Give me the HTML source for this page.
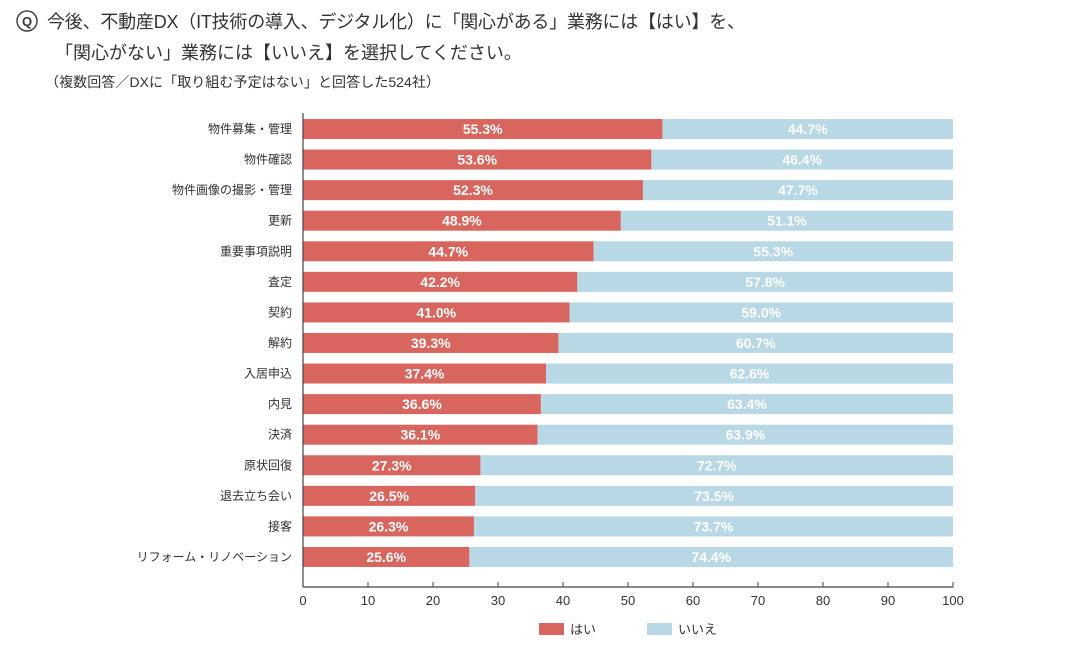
<!DOCTYPE html>
<html><head><meta charset="utf-8">
<style>
body{margin:0;background:#fff;width:1080px;height:645px;overflow:hidden;font-family:"Liberation Sans","Noto Sans CJK JP",sans-serif;}
svg text{font-family:"Liberation Sans","Noto Sans CJK JP",sans-serif;}
</style></head><body>
<svg id="c" width="1080" height="645">
<g>
<circle cx="27" cy="21" r="10" fill="#fff" stroke="#444" stroke-width="1.5"/>
<text x="27" y="26" font-size="13" font-weight="bold" text-anchor="middle" fill="#333">Q</text>
<text x="47" y="28" font-size="18" fill="#333" textLength="698">今後、不動産DX（IT技術の導入、デジタル化）に「関心がある」業務には【はい】を、</text>
<text x="55" y="59" font-size="18" fill="#333">「関心がない」業務には【いいえ】を選択してください。</text>
<text x="45" y="87" font-size="14" fill="#333" textLength="395">（複数回答／DXに「取り組む予定はない」と回答した524社）</text>
</g>
<g id="plot"></g>
<g>
<rect x="539" y="623" width="25" height="12" fill="#d9665e"/>
<text x="570" y="634" font-size="13" fill="#333">はい</text>
<rect x="647" y="623" width="25" height="12" fill="#b8d8e6"/>
<text x="678" y="634" font-size="13" fill="#333">いいえ</text>
</g>
</svg>
<script>
const categories=["物件募集・管理","物件確認","物件画像の撮影・管理","更新","重要事項説明","査定","契約","解約","入居申込","内見","決済","原状回復","退去立ち会い","接客","リフォーム・リノベーション"];
const yesValues=[55.3,53.6,52.3,48.9,44.7,42.2,41.0,39.3,37.4,36.6,36.1,27.3,26.5,26.3,25.6];
const noValues=[44.7,46.4,47.7,51.1,55.3,57.8,59.0,60.7,62.6,63.4,63.9,72.7,73.5,73.7,74.4];
const ticks=[0,10,20,30,40,50,60,70,80,90,100];
(function(){
const NS="http://www.w3.org/2000/svg";
const g=document.getElementById('plot');
const x0=303,x1=953,plotTop=113,plotBottom=587;
const xs=v=>x0+(x1-x0)*v/100;
const step=30.57;
const yc=i=>129+step*i;
function mk(t,a){const e=document.createElementNS(NS,t);for(const k in a)e.setAttribute(k,a[k]);g.appendChild(e);return e;}
categories.forEach((c,i)=>{
 const y=yc(i),h=20;
 let r=mk('rect',{x:xs(0),y:y-h/2,width:xs(yesValues[i])-xs(0),height:h,fill:'#d9665e'});
 
 
 let b=mk('rect',{x:xs(yesValues[i]),y:y-h/2,width:xs(yesValues[i]+noValues[i])-xs(yesValues[i]),height:h,fill:'#b8d8e6'});
 
 
 let t1=mk('text',{x:(xs(0)+xs(yesValues[i]))/2,y:y+5,'font-size':14,'font-weight':'bold',fill:'#fff','text-anchor':'middle'});
 t1.textContent=yesValues[i].toFixed(1)+'%';
 
 
 let t2=mk('text',{x:(xs(yesValues[i])+xs(yesValues[i]+noValues[i]))/2,y:y+5,'font-size':14,'font-weight':'bold',fill:'#fff','text-anchor':'middle'});
 t2.textContent=noValues[i].toFixed(1)+'%';
 
 
 let l=mk('text',{x:292,y:y+4,'font-size':12,fill:'#333','text-anchor':'end'});
 l.textContent=c;
 
 
});
let ax=mk('line',{x1:x0,y1:plotBottom,x2:x1,y2:plotBottom,stroke:'#444','stroke-width':1.2});


let ay=mk('line',{x1:x0,y1:plotTop,x2:x0,y2:plotBottom,stroke:'#444','stroke-width':1.2});


ticks.forEach(v=>{
 let tk=mk('line',{x1:xs(v),y1:plotBottom-5,x2:xs(v),y2:plotBottom,stroke:'#444','stroke-width':1});
 
 
 let tl=mk('text',{x:xs(v),y:605,'font-size':13,fill:'#333','text-anchor':'middle'});
 tl.textContent=v;
 
 
});
})();
</script>
</body></html>
